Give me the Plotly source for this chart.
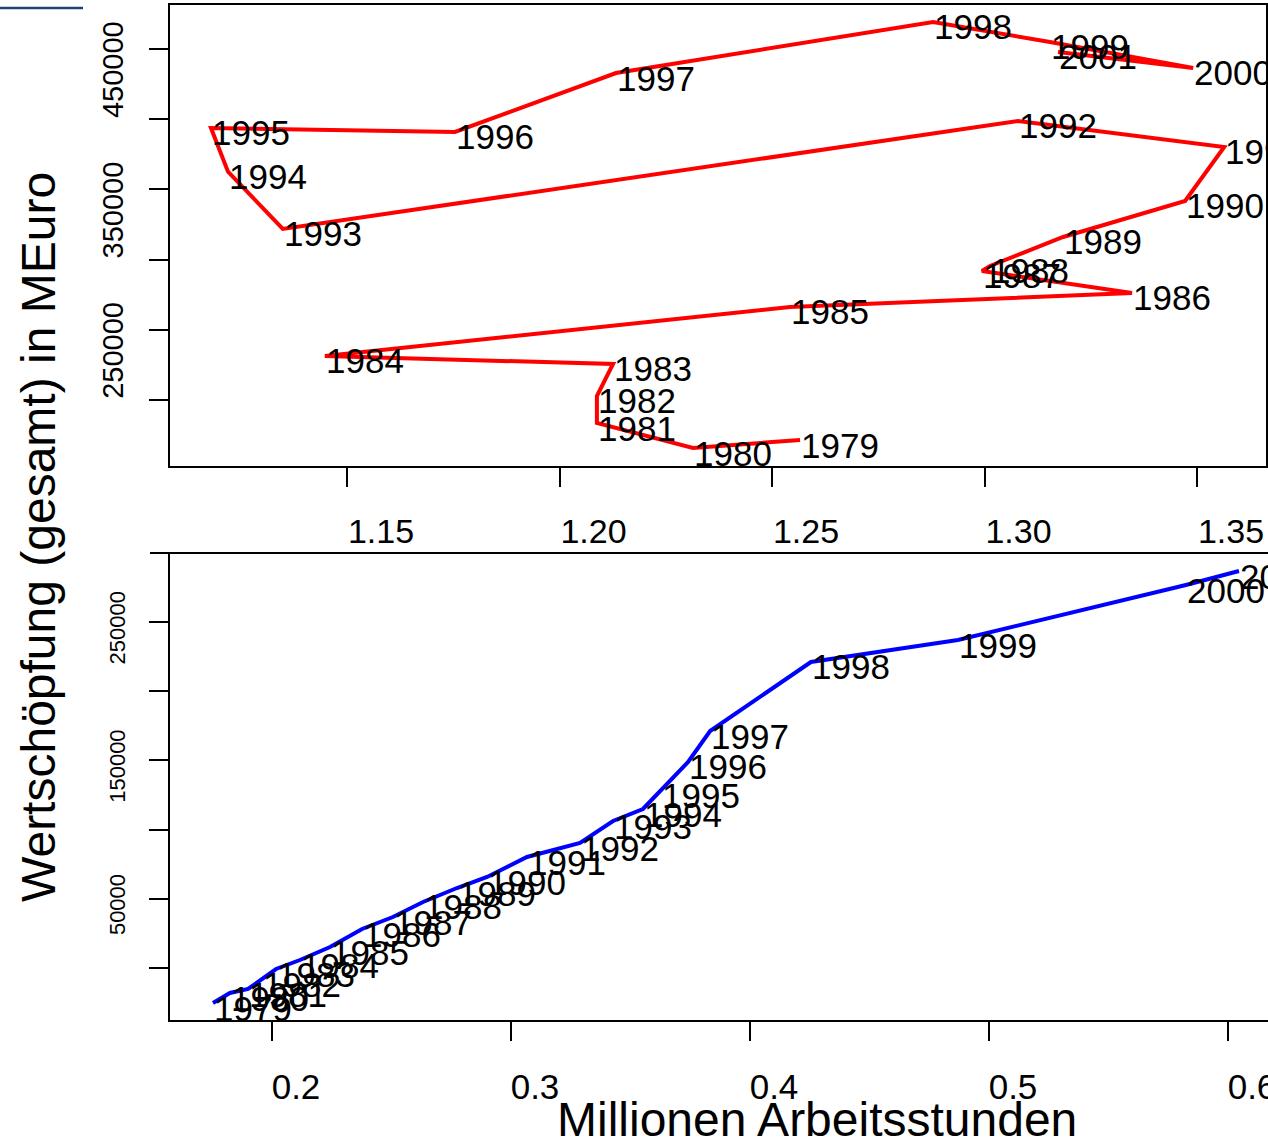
import plotly.graph_objects as go

W, H = 1268, 1137

years = list(range(1979, 2002))

# top panel: red path
top_hours = [1.2566, 1.2314, 1.2088, 1.2088, 1.2126, 1.1448, 1.2542, 1.3347, 1.2994, 1.3013,
             1.3185, 1.3472, 1.3564, 1.3079, 1.1349, 1.1220, 1.1180, 1.1754, 1.2133, 1.2879,
             1.3154, 1.3491, 1.3173]
top_value = [171500, 165800, 183600, 202850, 225640, 231340, 266240, 276210, 291880, 295440,
             316100, 341740, 380200, 398720, 321800, 362600, 393730, 390880, 432900, 469230,
             455000, 436470, 447860]

# bottom panel: blue path
bot_hours = [0.1753, 0.1824, 0.1900, 0.1958, 0.2017, 0.2117, 0.2243, 0.2377, 0.2506, 0.2632,
             0.2774, 0.2900, 0.3067, 0.3289, 0.3427, 0.3552, 0.3628, 0.3741, 0.3833, 0.4255,
             0.4870, 0.5824, 0.6046]
bot_value = [-25290, -18060, -15170, -7950, -720, 5780, 15170, 28180, 36850, 47690,
             57800, 65750, 80200, 90310, 106210, 114880, 128600, 148840, 171230, 221090,
             236980, 276720, 286830]

top_xticks = [1.15, 1.20, 1.25, 1.30, 1.35]
top_xticktext = ["1.15", "1.20", "1.25", "1.30", "1.35"]
top_yticks = [200000, 250000, 300000, 350000, 400000, 450000]
top_yticktext = ["", "250000", "", "350000", "", "450000"]
bot_xticks = [0.2, 0.3, 0.4, 0.5, 0.6]
bot_xticktext = ["0.2", "0.3", "0.4", "0.5", "0.6"]
bot_yticks = [0, 50000, 100000, 150000, 200000, 250000]
bot_yticktext = ["", "50000", "", "150000", "", "250000"]

y_title = "Wertschöpfung (gesamt) in MEuro"
x_title = "Millionen Arbeitsstunden"

FONT = "Liberation Sans, Arial, sans-serif"

fig = go.Figure()
fig.add_trace(go.Scatter(x=top_hours, y=top_value, mode="lines",
                         line=dict(color="#ff0000", width=4), xaxis="x", yaxis="y",
                         showlegend=False, hoverinfo="skip"))
fig.add_trace(go.Scatter(x=bot_hours, y=bot_value, mode="lines",
                         line=dict(color="#0000ff", width=4), xaxis="x2", yaxis="y2",
                         showlegend=False, hoverinfo="skip"))

ann = []
for yr, xv, yv in zip(years, top_hours, top_value):
    ann.append(dict(x=xv, y=yv, xref="x", yref="y", text=str(yr), showarrow=False,
                    xanchor="left", yanchor="middle", xshift=-1, yshift=-5,
                    font=dict(size=35, color="black", family=FONT)))
for yr, xv, yv in zip(years, bot_hours, bot_value):
    ann.append(dict(x=xv, y=yv, xref="x2", yref="y2", text=str(yr), showarrow=False,
                    xanchor="left", yanchor="middle", xshift=-1, yshift=-5,
                    font=dict(size=35, color="black", family=FONT)))
ann.append(dict(x=38 / W, y=1 - 537 / H, xref="paper", yref="paper", text=y_title,
                showarrow=False, textangle=-90, xanchor="center", yanchor="middle",
                font=dict(size=48, color="black", family=FONT)))
ann.append(dict(x=817 / W, y=1 - 1119 / H, xref="paper", yref="paper", text=x_title,
                showarrow=False, xanchor="center", yanchor="middle",
                font=dict(size=48, color="black", family=FONT)))

axis_common = dict(showgrid=False, zeroline=False, showline=True, linecolor="black",
                   linewidth=2, ticks="outside", ticklen=19, tickwidth=2, tickcolor="black",
                   ticklabeloverflow="allow", automargin=False)

fig.update_layout(
    width=W, height=H,
    margin=dict(l=0, r=0, t=0, b=0, autoexpand=False),
    paper_bgcolor="white", plot_bgcolor="white",
    font=dict(family=FONT, color="black"),
    annotations=ann,
    xaxis=dict(domain=[170 / W, 1266 / W], range=[1.108353, 1.366235], anchor="y",
               mirror=True, tickvals=top_xticks, ticktext=top_xticktext,
               tickfont=dict(size=34), ticklabelshift=34, ticklabelstandoff=15,
               **axis_common),
    yaxis=dict(domain=[1 - 466 / H, 1 - 5 / H], range=[152992, 481339], anchor="x",
               mirror=True, tickvals=top_yticks, ticktext=top_yticktext, tickangle=-90,
               tickfont=dict(size=29), ticklabelshift=25, ticklabelstandoff=14,
               **axis_common),
    xaxis2=dict(domain=[170 / W, 1.0], range=[0.157322, 0.616736], anchor="y2",
                mirror=False, tickvals=bot_xticks, ticktext=bot_xticktext,
                tickfont=dict(size=35), ticklabelshift=24, ticklabelstandoff=16,
                **axis_common),
    yaxis2=dict(domain=[1 - 1020 / H, 1 - 553 / H], range=[-37570, 299837], anchor="x2",
                mirror=False, tickvals=bot_yticks, ticktext=bot_yticktext, tickangle=-90,
                tickfont=dict(size=22), ticklabelshift=9, ticklabelstandoff=15,
                **axis_common),
    shapes=[
        dict(type="line", xref="paper", yref="paper", x0=0, x1=83 / W,
             y0=1 - 8 / H, y1=1 - 8 / H, line=dict(color="#23406e", width=2.5)),
        dict(type="line", xref="paper", yref="paper", x0=150 / W, x1=1.0,
             y0=1 - 553 / H, y1=1 - 553 / H, line=dict(color="black", width=2)),
    ],
)

post = (
    "document.documentElement.style.overflow='hidden';"
    "document.body.style.margin='0';"
    "document.body.style.overflow='hidden';"
)

fig.write_html("out.html", config={"displayModeBar": False}, post_script=post)
